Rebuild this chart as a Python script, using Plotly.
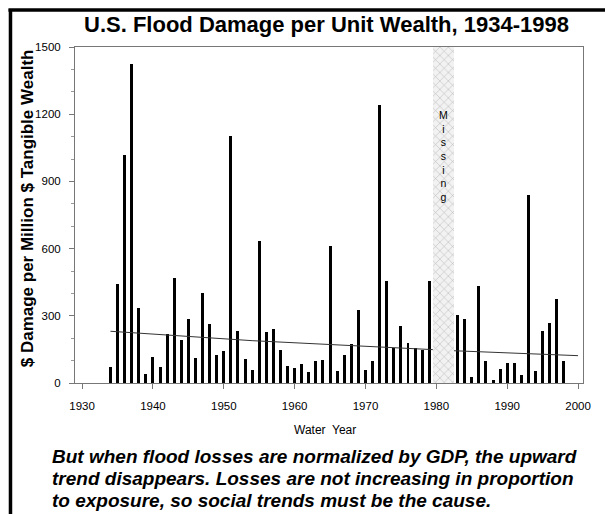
import plotly.graph_objects as go

# Flood damage per million $ tangible wealth, by water year
years = list(range(1934, 1980)) + list(range(1983, 1999))
damage = [
    70, 443, 1016, 1426, 336, 42, 116, 70, 219, 469,
    190, 284, 112, 402, 263, 125, 144, 1103, 234, 106,
    60, 632, 228, 241, 146, 74, 67, 86, 48, 97,
    101, 610, 52, 125, 176, 324, 57, 98, 1243, 454,
    155, 254, 180, 155, 147, 454,
    305, 286, 27, 432, 97, 13, 62, 89, 89, 34,
    838, 52, 234, 266, 374, 97,
]

missing_years = [1980, 1981, 1982]

# trend line as it appears (hidden behind the missing block)
trend_years = [1934, 1954, 1979.5, None, 1982.5, 2000]
trend_vals = [231, 189, 149, None, 144, 122]

y_ticks = [0, 300, 600, 900, 1200, 1500]
x_ticks = [1930, 1940, 1950, 1960, 1970, 1980, 1990, 2000]

caption_lines = [
    "But when flood losses are normalized by GDP, the upward",
    "trend disappears. Losses are not increasing in proportion",
    "to exposure, so social trends must be the cause.",
]

fig = go.Figure()

fig.add_trace(go.Bar(
    x=years, y=damage, width=0.42,
    marker=dict(color="black", line=dict(width=0)),
    hoverinfo="x+y",
))

fig.add_trace(go.Bar(
    x=missing_years, y=[1500] * len(missing_years), width=1,
    marker=dict(color="#f2f2f2", line=dict(width=0),
                pattern=dict(shape="x", fgcolor="#b8b8b8", bgcolor="#f2f2f2",
                             size=6, solidity=0.18, fillmode="replace")),
    hoverinfo="skip",
))

fig.add_trace(go.Scatter(
    x=trend_years, y=trend_vals, mode="lines",
    line=dict(color="#333", width=1), connectgaps=False, hoverinfo="skip",
))

fig.add_annotation(
    x=sum(missing_years) / len(missing_years), y=1013, yanchor="middle",
    text="<br>".join("Missing"), showarrow=False,
    font=dict(family="Liberation Sans", size=10.5, color="black"),
)

# axis / caption text
fig.add_annotation(
    xref="paper", yref="paper", x=0.496, y=1.068, yanchor="middle",
    text="<b>U.S. Flood Damage per Unit Wealth, 1934-1998</b>",
    showarrow=False, font=dict(family="Liberation Sans", size=22, color="black"),
)
fig.add_annotation(
    xref="paper", yref="paper", x=-0.0945, y=0.52, textangle=-90,
    xanchor="center", yanchor="middle",
    text="<b>$ Damage per Million $ Tangible Wealth</b>",
    showarrow=False, font=dict(family="Liberation Sans", size=17, color="black"),
)
fig.add_annotation(
    xref="paper", yref="paper", x=0.492, y=-0.14, yanchor="middle",
    text="Water  Year", showarrow=False,
    font=dict(family="Liberation Sans", size=12, color="black"),
)
for i, line in enumerate(caption_lines):
    fig.add_annotation(
        xref="paper", yref="paper", x=-0.049, y=-0.22 - i * 0.0655,
        xanchor="left", yanchor="middle", align="left",
        text="<b><i>" + line + "</i></b>", showarrow=False,
        font=dict(family="Liberation Sans", size=19, color="black"),
    )

# black frame on left and top
fig.add_shape(type="line", xref="paper", yref="paper",
              x0=-0.127, x1=-0.127, y0=1.113, y1=-0.4,
              line=dict(color="black", width=3.5))
fig.add_shape(type="line", xref="paper", yref="paper",
              x0=-0.131, x1=1.05, y0=1.110, y1=1.110,
              line=dict(color="black", width=3.5))

fig.update_layout(
    width=605, height=514,
    margin=dict(l=75, r=22, t=47, b=131),
    paper_bgcolor="white", plot_bgcolor="white",
    showlegend=False, barmode="overlay", bargap=0,
    font=dict(family="Liberation Sans", size=11.5, color="black"),
    xaxis=dict(
        range=[1929, 2000.7], tickvals=x_ticks, ticks="outside", ticklen=5,
        tickcolor="#777", showline=True, linecolor="#777", linewidth=1,
        mirror=True, showgrid=False, zeroline=False, ticklabelstandoff=7,
    ),
    yaxis=dict(
        range=[0, 1500], tickvals=y_ticks, ticks="outside", ticklen=5,
        tickcolor="#777", showline=True, linecolor="#777", linewidth=1,
        mirror=True, showgrid=False, zeroline=False, ticklabelstandoff=6,
        minor=dict(dtick=100, ticks="outside", ticklen=3, tickcolor="#999"),
    ),
)

fig.write_html("out.html", config={"displayModeBar": False},
               post_script="document.body.style.margin='0';")
